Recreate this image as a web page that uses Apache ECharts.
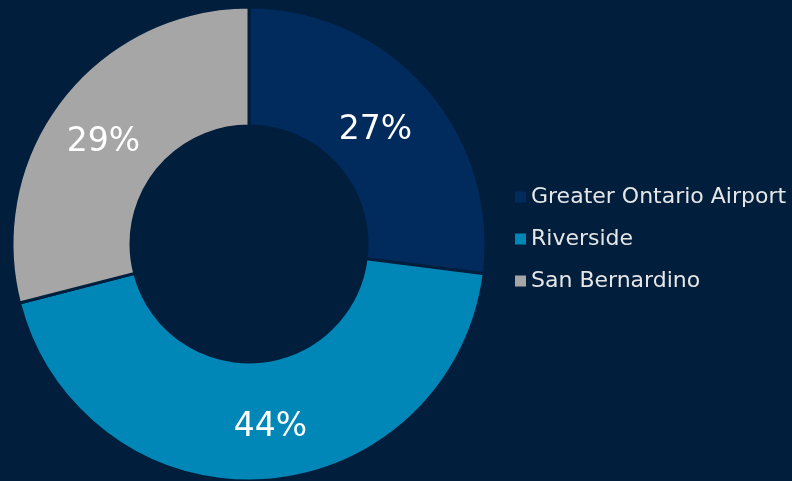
<!DOCTYPE html>
<html><head><meta charset="utf-8">
<script src="https://cdn.jsdelivr.net/npm/echarts@6/dist/echarts.min.js"></script>
<style>html,body{margin:0;padding:0;background:#011e3c;}#c{width:792px;height:481px;}</style>
</head><body><div id="c"></div>
<script>
const categories = ["Greater Ontario Airport", "Riverside", "San Bernardino"];
const values = [27, 44, 29];
const colors = ["#002b5c", "#0087b8", "#a6a6a6"];
const labelShift = [[-9, 6], [10, 3], [-3, 9]];
const chart = echarts.init(document.getElementById('c'));
chart.setOption({
  backgroundColor: '#011e3c',
  color: colors,
  legend: {
    orient: 'vertical', left: 510, top: 181,
    itemWidth: 11, itemHeight: 11, itemGap: 20, icon: 'rect',
    itemStyle: { borderWidth: 0 },
    textStyle: { color: '#e6e6e6', fontSize: 22, fontFamily: '"Century Gothic", "DejaVu Sans", sans-serif' },
    data: categories
  },
  series: [{
    type: 'pie', center: [249, 244], radius: [118, 237],
    startAngle: 90, clockwise: true, avoidLabelOverlap: false,
    itemStyle: { borderColor: '#011e3c', borderWidth: 3 },
    label: { show: true, position: 'inside', formatter: '{c}%', color: '#ffffff', fontSize: 33,
      fontFamily: '"Century Gothic", "DejaVu Sans", sans-serif' },
    labelLine: { show: false },
    emphasis: { disabled: true },
    data: categories.map((n, i) => ({ name: n, value: values[i], label: { offset: labelShift[i] } }))
  }]
});
</script></body></html>
